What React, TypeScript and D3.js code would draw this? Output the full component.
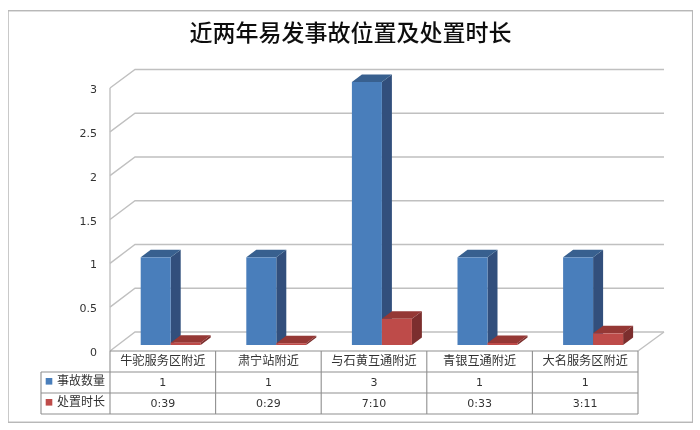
import React from 'react';
import * as d3 from 'd3';

const title = '近两年易发事故位置及处置时长';
const categories = ['牛驼服务区附近', '肃宁站附近', '与石黄互通附近', '青银互通附近', '大名服务区附近'];
const seriesNames = ['事故数量', '处置时长'];
const accidentCounts = [1, 1, 3, 1, 1];
const durationLabels = ['0:39', '0:29', '7:10', '0:33', '3:11'];
const yTicks = [0, 0.5, 1, 1.5, 2, 2.5, 3];

const WIDTH = 700, HEIGHT = 430;
const FONT = '"Noto Sans CJK SC", "Noto Sans", sans-serif';
const GRID = '#c0c0c0', TABLE_LINE = '#8f8f8f', TEXT = '#333';
const BLUE = { front: '#4a7ebb', side: '#30507c', top: '#38618f' };
const RED = { front: '#be4b48', side: '#7c2f2d', top: '#953735' };

// excel keeps a duration as a fraction of a day, that is what gets plotted
const durationToDays = (s: string) => {
    const [h, m] = s.split(':').map(Number);
    return (h + m / 60) / 24;
};
const durations = durationLabels.map(durationToDays);

const xBand = d3.scaleBand<string>().domain(categories).range([110, 638]);
const yFront = d3.scaleLinear().domain([0, 3]).range([351, 88]);
const yBack = d3.scaleLinear().domain([0, 3]).range([332, 69.5]);
const yBar = d3.scaleLinear().domain([0, 3]).range([345, 82]);

const WALL_DX = 25;
const BAR_W = 30, BAR_OFFSET = 30.7, BAR_DX = 10, BAR_DY = 7.5;

const poly = (pts: [number, number][]) => `M${pts.map(p => p.join(',')).join('L')}Z`;

const Bar = ({ x, value, colors }: { x: number, value: number, colors: typeof BLUE }) => {
    const y0 = yBar(0), y1 = yBar(value), x1 = x + BAR_W;
    return (
        <g>
            <path d={poly([[x1, y1], [x1 + BAR_DX, y1 - BAR_DY], [x1 + BAR_DX, y0 - BAR_DY], [x1, y0]])} fill={colors.side} />
            <path d={poly([[x, y1], [x + BAR_DX, y1 - BAR_DY], [x1 + BAR_DX, y1 - BAR_DY], [x1, y1]])} fill={colors.top} />
            <rect x={x} y={y1} width={BAR_W} height={y0 - y1} fill={colors.front} />
        </g>
    );
};

export default function App() {
    const left = xBand.range()[0], right = xBand.range()[1];
    const rowTop = 351, rowH = 21;

    return (
        <svg width={WIDTH} height={HEIGHT} style={{ position: 'absolute', left: 0, top: 0, background: '#fff' }} fontFamily={FONT}>
            {/* the reference is a soft jpeg */}
            <defs>
                <filter id='soft' x='0' y='0' width='100%' height='100%'>
                    <feGaussianBlur stdDeviation='0.35' />
                </filter>
            </defs>
            <g filter='url(#soft)'>
                <rect x={8} y={10.7} width={684.7} height={411.6} fill='#fff' stroke='#b8b8b8' strokeWidth={1.5} />
                <text x={350.5} y={35} fontSize={23} fontWeight={500} textAnchor='middle' dominantBaseline='middle' fill='#111'>{title}</text>

                {/* walls */}
                <g stroke={GRID} strokeWidth={1.4} fill='none'>
                    {yTicks.map(t => (
                        <path key={t} d={`M${left},${yFront(t)}L${left + WALL_DX},${yBack(t)}L${right + WALL_DX + 1},${yBack(t)}`} />
                    ))}
                    <line x1={left} x2={left} y1={yFront(3)} y2={yFront(0)} />
                    <line x1={right + WALL_DX + 1} x2={right} y1={yBack(0)} y2={yFront(0)} />
                </g>

                {yTicks.map(t => (
                    <text key={t} x={97} y={yFront(t) + 2} fontSize={11} fontFamily='"DejaVu Sans", sans-serif' textAnchor='end' dominantBaseline='middle' fill={TEXT}>{t}</text>
                ))}

                {/* bars */}
                {categories.map((c, i) => {
                    const x = (xBand(c) as number) + BAR_OFFSET;
                    return (
                        <g key={c}>
                            <Bar x={x} value={accidentCounts[i]} colors={BLUE} />
                            <Bar x={x + BAR_W} value={durations[i]} colors={RED} />
                        </g>
                    );
                })}

                {/* data table */}
                <g stroke={TABLE_LINE} strokeWidth={1.1} fill='none'>
                    <line x1={left} x2={right} y1={rowTop} y2={rowTop} />
                    <line x1={41} x2={right} y1={rowTop + rowH} y2={rowTop + rowH} />
                    <line x1={41} x2={right} y1={rowTop + rowH * 2} y2={rowTop + rowH * 2} />
                    <line x1={41} x2={right} y1={rowTop + rowH * 3} y2={rowTop + rowH * 3} />
                    <line x1={41} x2={41} y1={rowTop + rowH} y2={rowTop + rowH * 3} />
                    {categories.map(c => (
                        <line key={c} x1={xBand(c)} x2={xBand(c)} y1={rowTop} y2={rowTop + rowH * 3} />
                    ))}
                    <line x1={right} x2={right} y1={rowTop} y2={rowTop + rowH * 3} />
                </g>
                {categories.map((c, i) => {
                    const cx = (xBand(c) as number) + xBand.bandwidth() / 2;
                    return (
                        <g key={c} textAnchor='middle' fill={TEXT}>
                            <text x={cx} y={rowTop + rowH / 2 + 0.5} fontSize={12.2} dominantBaseline='middle'>{c}</text>
                            <text x={cx} y={rowTop + rowH * 1.5 + 0.5} fontSize={11} fontFamily='"DejaVu Sans", sans-serif' dominantBaseline='middle'>{accidentCounts[i]}</text>
                            <text x={cx} y={rowTop + rowH * 2.5 + 0.5} fontSize={11} fontFamily='"DejaVu Sans", sans-serif' dominantBaseline='middle'>{durationLabels[i]}</text>
                        </g>
                    );
                })}
                {seriesNames.map((name, i) => {
                    const cy = rowTop + rowH * (1.5 + i);
                    return (
                        <g key={name}>
                            <rect x={45.7} y={cy - 4.5} width={6.6} height={6.6} fill={i === 0 ? BLUE.front : RED.front} />
                            <text x={57} y={cy - 1} fontSize={12} dominantBaseline='middle' fill={TEXT}>{name}</text>
                        </g>
                    );
                })}
            </g>
        </svg>
    );
}
